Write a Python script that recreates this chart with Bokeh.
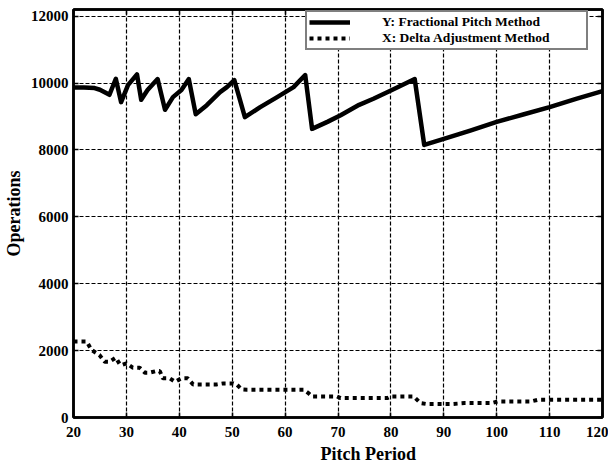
from bokeh.plotting import figure
from bokeh.models import LinearAxis, FixedTicker, Legend, LegendItem, Title
from bokeh.embed import file_html
from bokeh.resources import INLINE

# Y: Fractional Pitch Method
y_period = [20, 22, 24, 25, 26.8, 28, 29, 30.3, 32, 32.8, 34, 35.9, 37.3, 38.8, 40.4, 41.8,
            43.1, 45.2, 47.7, 49, 50.4, 52.4, 55.3, 58.5, 61.6, 63.8, 65.1, 68, 70.5, 74,
            76.7, 80, 84.5, 86.3, 90, 95, 100, 105, 110, 115, 120]
y_ops = [9870, 9870, 9850, 9800, 9650, 10130, 9430, 9940, 10260, 9500, 9790, 10120, 9200,
         9580, 9790, 10120, 9070, 9340, 9730, 9880, 10090, 8980, 9280, 9580, 9880, 10240,
         8630, 8840, 9040, 9350, 9530, 9780, 10120, 8150, 8330, 8580, 8840, 9060, 9280,
         9530, 9760]

# X: Delta Adjustment Method
x_period = [20, 22.5, 23.4, 24.9, 25.9, 26.8, 28, 28.8, 29.3, 30, 31.2, 32.5, 33.5, 34.4,
            35.7, 36.3, 36.9, 38.2, 39.2, 40.4, 41.6, 42.6, 47.1, 48.3, 50.2, 50.9, 51.8,
            52.8, 60.4, 63.5, 64.4, 65.1, 69.8, 70.5, 79.3, 80, 84.3, 85.6, 86.9, 91.3,
            93.9, 99, 100.2, 106.5, 107.8, 120]
x_ops = [2270, 2270, 2020, 1870, 1670, 1670, 1790, 1580, 1580, 1620, 1490, 1490, 1340, 1340,
         1390, 1390, 1170, 1170, 1070, 1170, 1170, 990, 990, 1020, 1020, 980, 840, 830, 830,
         830, 730, 630, 630, 580, 580, 630, 630, 430, 400, 400, 430, 430, 480, 480, 530, 530]

x_ticks = [20, 30, 40, 50, 60, 70, 80, 90, 100, 110, 120]
y_ticks = [0, 2000, 4000, 6000, 8000, 10000, 12000]

FONT = "Liberation Serif"

p = figure(frame_width=529, frame_height=408, x_range=(20, 120), y_range=(0, 12200),
           output_backend="svg", toolbar_location=None,
           min_border_left=73, min_border_right=6, min_border_top=9, min_border_bottom=52,
           y_axis_label="Operations")

p.background_fill_color = "white"
p.border_fill_color = "white"
p.outline_line_color = "black"
p.outline_line_width = 2.5

p.xaxis.ticker = FixedTicker(ticks=x_ticks)
p.yaxis.ticker = FixedTicker(ticks=y_ticks)

for ax in (p.xaxis[0], p.yaxis[0]):
    ax.axis_line_color = "black"
    ax.axis_line_width = 2.5
    ax.major_tick_in = 5
    ax.major_tick_out = 0
    ax.major_tick_line_width = 1.5
    ax.minor_tick_line_color = None
    ax.major_label_text_font = FONT
    ax.major_label_text_font_style = "bold"
    ax.major_label_text_font_size = "15px"
    ax.major_label_text_color = "black"
    ax.axis_label_text_font = FONT
    ax.axis_label_text_font_style = "bold"
    ax.axis_label_text_font_size = "18px"
    ax.axis_label_text_color = "black"

p.xaxis.major_label_standoff = 9
p.yaxis.major_label_standoff = 5
p.yaxis.axis_label_standoff = 4

top = LinearAxis(ticker=FixedTicker(ticks=x_ticks), major_tick_in=5, major_tick_out=0,
                 minor_tick_line_color=None, major_label_text_font_size="1px",
                 major_label_text_color=None, major_label_standoff=0,
                 axis_line_width=2.5, major_tick_line_width=1.5)
right = LinearAxis(ticker=FixedTicker(ticks=y_ticks), major_tick_in=5, major_tick_out=0,
                   minor_tick_line_color=None, major_label_text_font_size="1px",
                   major_label_text_color=None, major_label_standoff=0,
                   axis_line_width=2.5, major_tick_line_width=1.5)
p.add_layout(top, "above")
p.add_layout(right, "right")

p.grid.ticker = None
p.xgrid.ticker = FixedTicker(ticks=x_ticks)
p.ygrid.ticker = FixedTicker(ticks=y_ticks)
p.grid.grid_line_color = "black"
p.grid.grid_line_dash = "4 2"
p.grid.grid_line_width = 1.2

r_y = p.line(y_period, y_ops, line_color="black", line_width=4.5, line_join="round")
r_x = p.line(x_period, x_ops, line_color="black", line_width=4, line_dash="4 4")

legend = Legend(items=[LegendItem(label="Y: Fractional Pitch Method", renderers=[r_y]),
                       LegendItem(label="X: Delta Adjustment Method", renderers=[r_x])],
                location=(232, 367), orientation="vertical",
                border_line_color="black", border_line_width=2,
                background_fill_color="white", background_fill_alpha=1.0,
                label_text_font=FONT, label_text_font_style="bold",
                label_text_font_size="13.5px", label_text_color="black",
                glyph_width=41, glyph_height=12, label_height=12, label_width=202,
                label_standoff=32, padding=2, spacing=0, margin=0)
p.add_layout(legend)

xtitle = Title(text="Pitch Period", align="left", offset=247, standoff=4,
               text_font=FONT, text_font_style="bold", text_font_size="18px",
               text_color="black")
p.add_layout(xtitle, "below")

open("out.html", "w").write(file_html(p, INLINE))
